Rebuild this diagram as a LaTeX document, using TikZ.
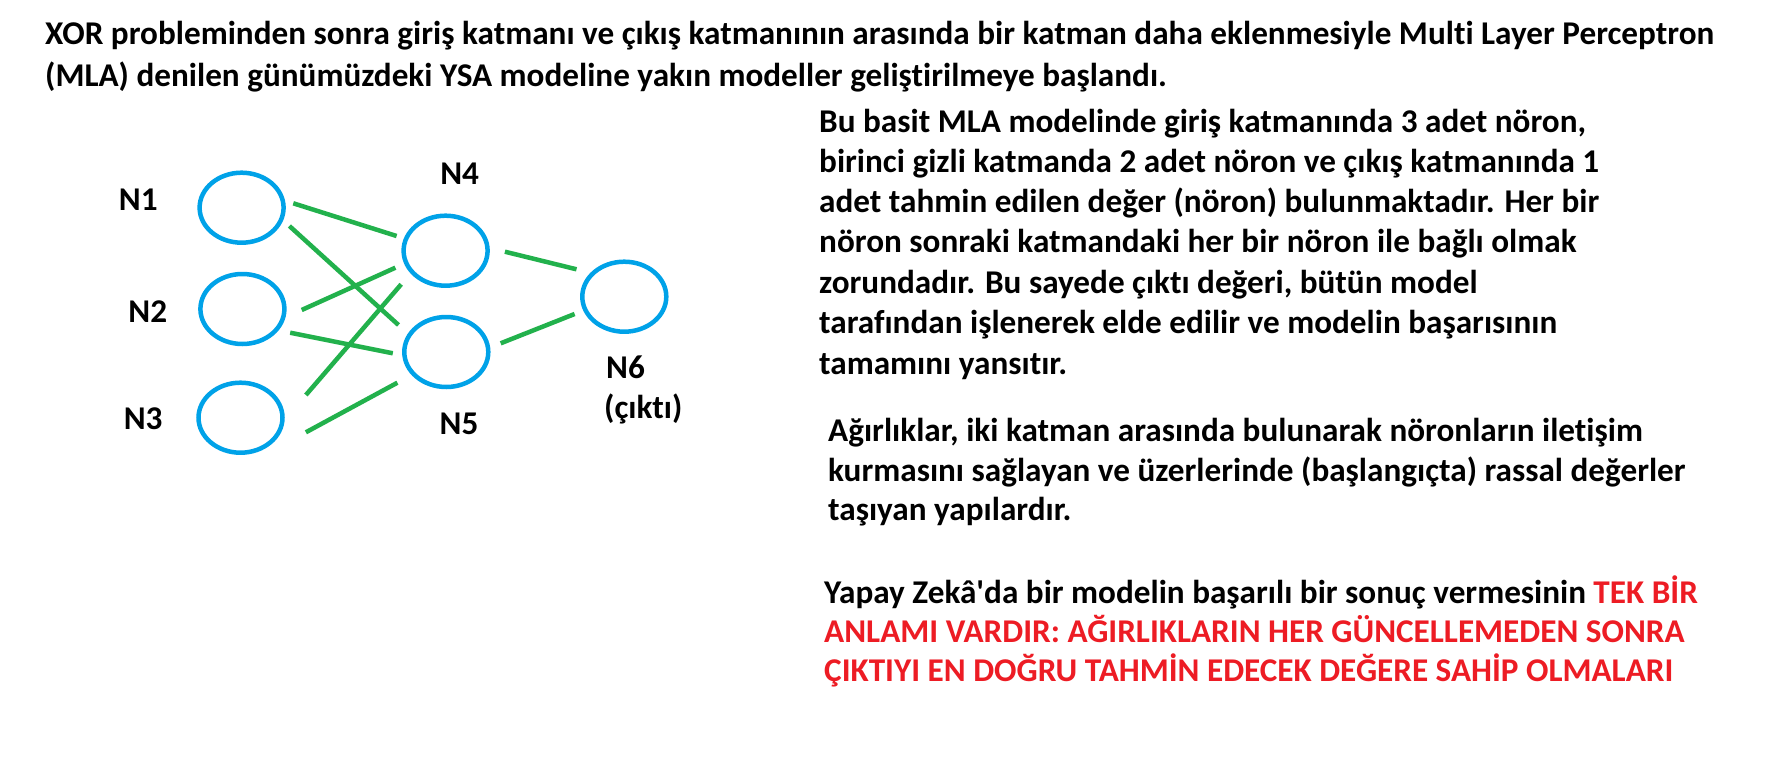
\documentclass[tikz,border=0pt]{standalone}
\usepackage{fontspec}
\newfontfamily\calfont{Carlito}[Ligatures=NoCommon]
\usetikzlibrary{shapes.geometric}
\definecolor{pblue}{HTML}{00A2E8}
\definecolor{pgreen}{HTML}{22B14C}
\definecolor{pred}{HTML}{ED1C24}
\begin{document}
\begin{tikzpicture}[x=1pt,y=-1pt,
  neuron/.style={draw=pblue,line width=4.5pt,ellipse,minimum width=84pt,minimum height=70pt,inner sep=0pt},
  wire/.style={draw=pgreen,line width=4.5pt},
  lbl/.style={font=\calfont\fontsize{33.2}{38}\selectfont\bfseries,inner sep=0pt},
  txt/.style={font=\calfont\fontsize{33.2}{38}\selectfont\bfseries,inner sep=0pt,anchor=base west}]
\fill[white] (0,0) rectangle (1778,776);
\useasboundingbox (0,0) rectangle (1778,776);
% title
\node[txt] (h1) at (45,45) {XOR probleminden sonra giriş katmanı ve çıkış katmanının arasında bir katman daha eklenmesiyle Multi Layer Perceptron};
\node[txt] (h2) at (45,87) {(MLA) denilen günümüzdeki YSA modeline yakın modeller geliştirilmeye başlandı.};
% neurons
\node[neuron] (n1) at (241.6,207.7) {};
\node[neuron] (n2) at (242.4,309) {};
\node[neuron] (n3) at (240.5,417.7) {};
\node[neuron] (n4) at (445.6,250.7) {};
\node[neuron] (n5) at (446.3,352) {};
\node[neuron] (n6) at (624.3,296.7) {};
% labels
\node[lbl] (l1) at (138.3,200) {N1};
\node[lbl] (l2) at (147.8,311.7) {N2};
\node[lbl] (l3) at (143.2,418.3) {N3};
\node[lbl] (l4) at (459.7,173.3) {N4};
\node[lbl] (l5) at (459,424) {N5};
\node[lbl,anchor=base west] (l6) at (606,378) {N6};
\node[lbl,anchor=base west] (l6b) at (604,418) {(çıktı)};
% connections
\draw[wire] ([shift={(51.7,-4.4)}]n1.center) -- ([shift={(-49,-14.7)}]n4.center);
\draw[wire] ([shift={(47.8,18.3)}]n1.center) -- ([shift={(-47.8,-27)}]n5.center);
\draw[wire] ([shift={(59.3,1)}]n2.center) -- ([shift={(-50.2,17)}]n4.center);
\draw[wire] ([shift={(47.8,23.7)}]n2.center) -- ([shift={(-53.5,1.3)}]n5.center);
\draw[wire] ([shift={(65.4,-22.7)}]n3.center) -- ([shift={(-44.4,33.6)}]n4.center);
\draw[wire] ([shift={(65.4,14.6)}]n3.center) -- ([shift={(-48.9,30.7)}]n5.center);
\draw[wire] ([shift={(59.3,1)}]n4.center) -- ([shift={(-47.8,-27.4)}]n6.center);
\draw[wire] ([shift={(54.4,-8.7)}]n5.center) -- ([shift={(-49.7,17.3)}]n6.center);
% block 1
\node[txt] (a1) at (819,132) {Bu basit MLA modelinde giriş katmanında 3 adet nöron,};
\node[txt] (a2) at (819,172) {birinci gizli katmanda 2 adet nöron ve çıkış katmanında 1};
\node[txt] (a3) at (819,212) {adet tahmin edilen değer (nöron) bulunmaktadır. Her bir};
\node[txt] (a4) at (819,252) {nöron sonraki katmandaki her bir nöron ile bağlı olmak};
\node[txt] (a5) at (819,293) {zorundadır. Bu sayede çıktı değeri, bütün model};
\node[txt] (a6) at (819,333) {tarafından işlenerek elde edilir ve modelin başarısının};
\node[txt] (a7) at (819,374) {tamamını yansıtır.};
% block 2
\node[txt] (b1) at (828,441) {Ağırlıklar, iki katman arasında bulunarak nöronların iletişim};
\node[txt] (b2) at (828,481) {kurmasını sağlayan ve üzerlerinde (başlangıçta) rassal değerler};
\node[txt] (b3) at (828,520) {taşıyan yapılardır.};
% block 3
\node[txt] (c1) at (824,603) {Yapay Zekâ'da bir modelin başarılı bir sonuç vermesinin \textcolor{pred}{TEK BİR}};
\node[txt,text=pred] (c2) at (824,642) {ANLAMI VARDIR: AĞIRLIKLARIN HER GÜNCELLEMEDEN SONRA};
\node[txt,text=pred] (c3) at (824,681) {ÇIKTIYI EN DOĞRU TAHMİN EDECEK DEĞERE SAHİP OLMALARI};
\end{tikzpicture}
\end{document}
